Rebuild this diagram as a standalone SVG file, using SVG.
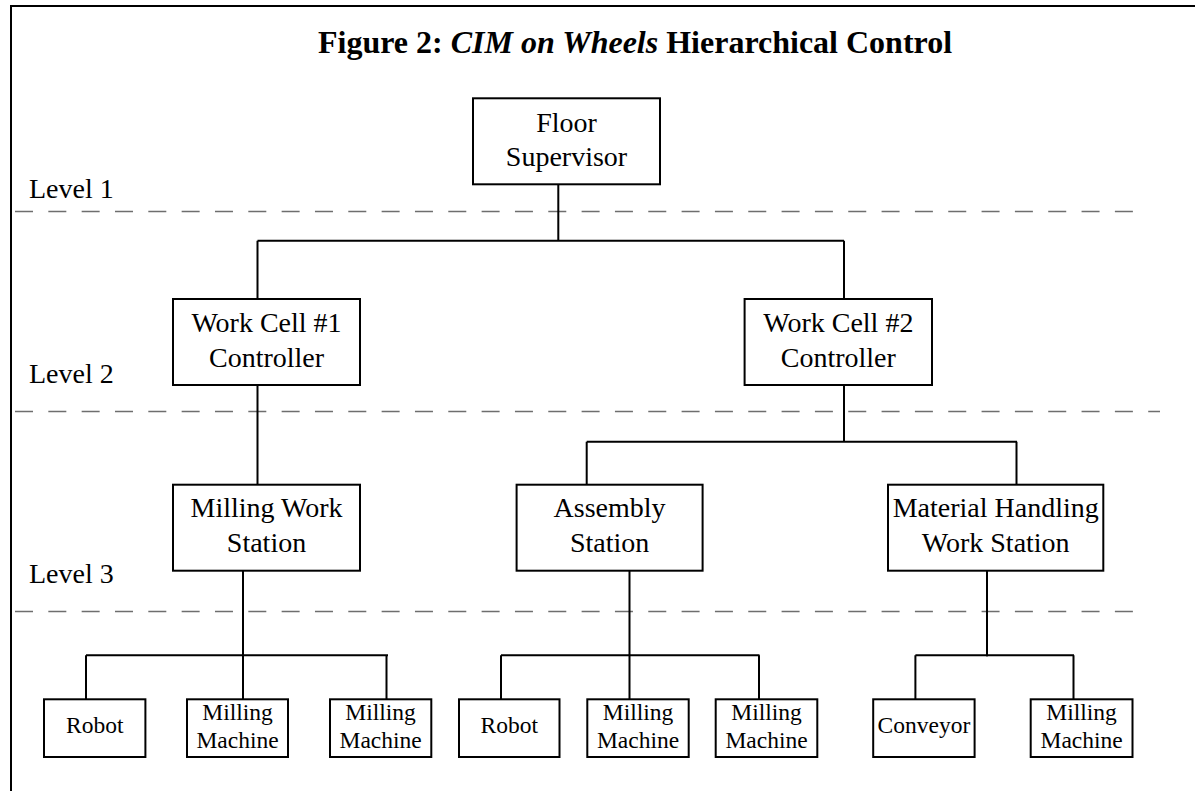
<svg xmlns="http://www.w3.org/2000/svg" width="1195" height="791" viewBox="0 0 1195 791">
<style>
.box{fill:#fff;stroke:#000;stroke-width:2}
.t{font-family:"Liberation Serif","Times New Roman",serif;font-size:28px;fill:#000;text-anchor:middle}
.s{font-family:"Liberation Serif","Times New Roman",serif;font-size:23.5px;fill:#000;text-anchor:middle}
.lvl{font-family:"Liberation Serif","Times New Roman",serif;font-size:28px;fill:#000}
.dash{stroke:#6e6e6e;stroke-width:1.5;stroke-dasharray:18 15.33;fill:none}
.c{stroke:#000;stroke-width:2;fill:none}
</style>
<rect width="1195" height="791" fill="#fff"/>
<g id="frame">
<path d="M11,791 V6 H1195" fill="none" stroke="#000" stroke-width="2"/>
</g>
<text x="318" y="53" font-family="Liberation Serif, Times New Roman, serif" font-size="32" font-weight="bold">Figure 2: <tspan font-style="italic">CIM on Wheels</tspan> Hierarchical Control</text>
<g id="levels">
<text class="lvl" x="29" y="197.5">Level 1</text>
<text class="lvl" x="29" y="383">Level 2</text>
<text class="lvl" x="29" y="583">Level 3</text>
<line class="dash" x1="15" y1="211.5" x2="1135" y2="211.5"/>
<line class="dash" x1="15" y1="411.5" x2="1160" y2="411.5"/>
<line class="dash" x1="15" y1="611.5" x2="1135" y2="611.5"/>
</g>
<g id="connectors">
<path class="c" d="M558.3,184 V240.7 M257.5,240.7 H844 M257.5,240.7 V299 M844,240.7 V299"/>
<path class="c" d="M257.5,385 V484.7"/>
<path class="c" d="M844,385 V441.7 M586.7,441.7 H1017 M586.7,441.7 V484.7 M1016.5,441.7 V484.7"/>
<path class="c" d="M243,570.7 V699.3 M86,655.3 H388 M86,655.3 V699.3 M386.5,655.3 V699.3"/>
<path class="c" d="M629.5,570.7 V699.3 M501,655.3 H759.5 M501,655.3 V699.3 M759,655.3 V699.3"/>
<path class="c" d="M987,570.7 V656.5 M915.4,655.3 H1074 M915.4,655.3 V699.3 M1073.5,655.3 V699.3"/>
</g>
<g id="floor-supervisor">
<rect class="box" x="473" y="98.3" width="187" height="86"/>
<text class="t" x="566.5" y="132.3">Floor</text>
<text class="t" x="566.5" y="166">Supervisor</text>
</g>
<g id="work-cell-1">
<rect class="box" x="173" y="299" width="187" height="86"/>
<text class="t" x="266.5" y="331.7">Work Cell #1</text>
<text class="t" x="266.5" y="366.7">Controller</text>
</g>
<g id="work-cell-2">
<rect class="box" x="744.6" y="299" width="187.4" height="86"/>
<text class="t" x="838.3" y="331.7">Work Cell #2</text>
<text class="t" x="838.3" y="366.7">Controller</text>
</g>
<g id="milling-work-station">
<rect class="box" x="173" y="484.7" width="187" height="86"/>
<text class="t" x="266.5" y="517">Milling Work</text>
<text class="t" x="266.5" y="551.7">Station</text>
</g>
<g id="assembly-station">
<rect class="box" x="516.6" y="484.7" width="186" height="86"/>
<text class="t" x="609.6" y="517">Assembly</text>
<text class="t" x="609.6" y="551.7">Station</text>
</g>
<g id="material-handling-work-station">
<rect class="box" x="888" y="484.7" width="215.3" height="86"/>
<text class="t" x="995.7" y="517">Material Handling</text>
<text class="t" x="995.7" y="551.7">Work Station</text>
</g>
<g id="robot-1">
<rect class="box" x="44" y="699.3" width="101.4" height="57.7"/>
<text class="s" x="94.7" y="733.3">Robot</text>
</g>
<g id="milling-machine-1">
<rect class="box" x="187" y="699.3" width="101" height="57.7"/>
<text class="s" x="237.5" y="720">Milling</text>
<text class="s" x="237.5" y="748.3">Machine</text>
</g>
<g id="milling-machine-2">
<rect class="box" x="330" y="699.3" width="101.3" height="57.7"/>
<text class="s" x="380.6" y="720">Milling</text>
<text class="s" x="380.6" y="748.3">Machine</text>
</g>
<g id="robot-2">
<rect class="box" x="459" y="699.3" width="100.5" height="57.7"/>
<text class="s" x="509.2" y="733.3">Robot</text>
</g>
<g id="milling-machine-3">
<rect class="box" x="587.3" y="699.3" width="101.4" height="57.7"/>
<text class="s" x="638" y="720">Milling</text>
<text class="s" x="638" y="748.3">Machine</text>
</g>
<g id="milling-machine-4">
<rect class="box" x="715.7" y="699.3" width="101.6" height="57.7"/>
<text class="s" x="766.5" y="720">Milling</text>
<text class="s" x="766.5" y="748.3">Machine</text>
</g>
<g id="conveyor">
<rect class="box" x="873.2" y="699.3" width="101.4" height="57.7"/>
<text class="s" x="923.9" y="733.3">Conveyor</text>
</g>
<g id="milling-machine-5">
<rect class="box" x="1030.7" y="699.3" width="101.8" height="57.7"/>
<text class="s" x="1081.6" y="720">Milling</text>
<text class="s" x="1081.6" y="748.3">Machine</text>
</g>
</svg>
